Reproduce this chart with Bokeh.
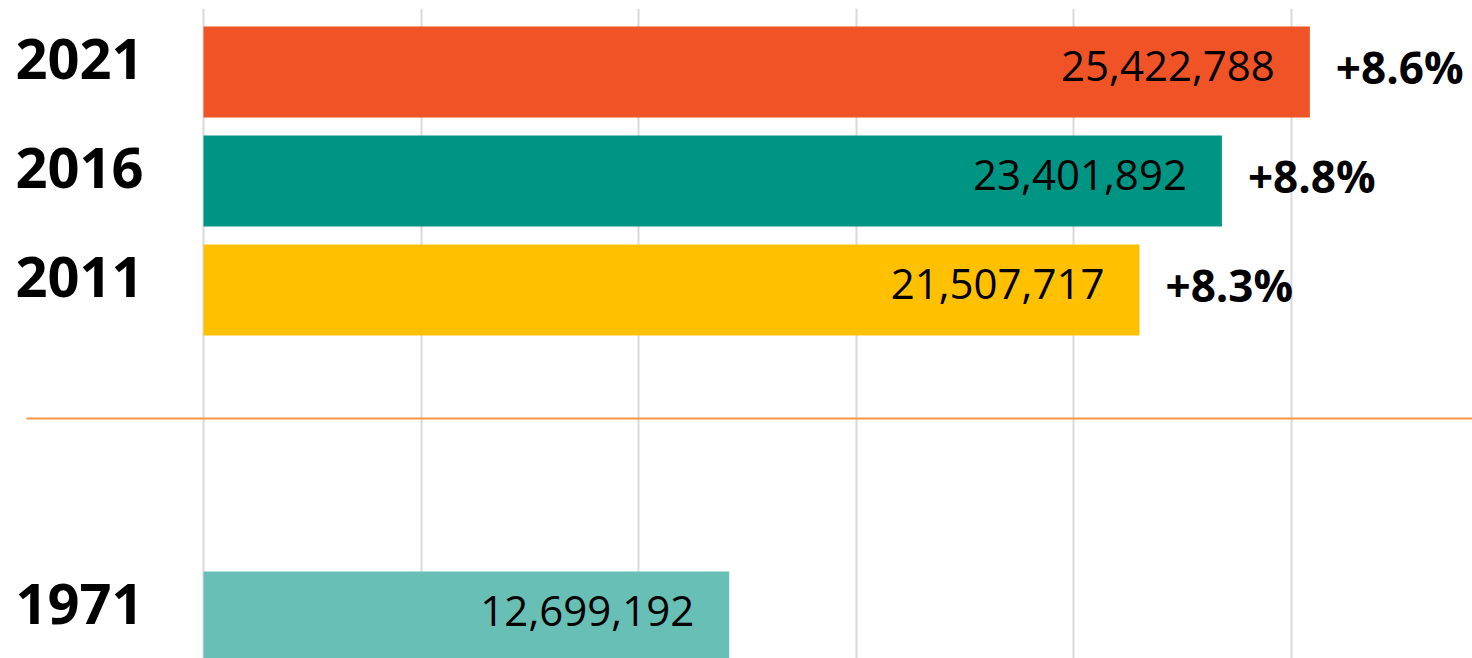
from bokeh.plotting import figure
from bokeh.models import ColumnDataSource, Range1d, FixedTicker
from bokeh.core.properties import value
from bokeh.embed import file_html
from bokeh.resources import INLINE

# ---- data ----
years = ["2021", "2016", "2011", "1971"]
populations = [25422788, 23401892, 21507717, 12699192]
value_labels = ["25,422,788", "23,401,892", "21,507,717", "12,699,192"]
# bar lengths as drawn in the picture (the 1971 bar is drawn shorter than its label)
bar_lengths = [25422788, 23401892, 21507717, 12080000]
growth_labels = ["+8.6%", "+8.8%", "+8.3%", ""]
bar_colors = ["#EF5326", "#009483", "#FFC000", "#67BFB5"]
grid_ticks = [0, 5000000, 10000000, 15000000, 20000000, 25000000]

# ---- layout (slot positions; 1971 sits below a gap) ----
slots = [0, 1, 2, 5]
ypos = [-s for s in slots]

src = ColumnDataSource(dict(
    year=years, pop=populations, length=bar_lengths, vlabel=value_labels,
    glabel=growth_labels, color=bar_colors, y=ypos,
    zero=[0] * len(years),
))

p = figure(width=1472, height=658, output_backend="svg", toolbar_location=None,
           x_range=Range1d(-4.481e6, 29.16e6), y_range=Range1d(-5.381, 0.583),
           min_border_left=8, min_border_top=8, min_border_right=0, min_border_bottom=0,
           outline_line_color=None,
           background_fill_color="white", border_fill_color="white")
p.xaxis.visible = False
p.yaxis.visible = False
p.ygrid.visible = False
p.xgrid.ticker = FixedTicker(ticks=grid_ticks)
p.xgrid.grid_line_color = "#D9D9D9"
p.xgrid.grid_line_width = 2

# separator line between recent years and 1971
p.segment(x0=-4.07e6, y0=-3.18, x1=29.16e6, y1=-3.18, line_color="#F79646", line_width=2)

p.hbar(y="y", left=0, right="length", height=0.835, fill_color="color",
       line_color=None, source=src)

# value labels inside bars
p.text(x="length", y="y", text="vlabel", source=src, text_align="right",
       text_baseline="middle", x_offset=-35, y_offset=-6,
       text_font=value("Open Sans"), text_font_size="42px", text_color="#000000")

# growth labels right of bars
p.text(x="length", y="y", text="glabel", source=src, text_align="left",
       text_baseline="middle", x_offset=26, y_offset=-5,
       text_font=value("Open Sans"), text_font_size="44px", text_font_style="bold",
       text_color="#000000")

# year labels on the left
p.text(x="zero", y="y", text="year", source=src, text_align="left",
       text_baseline="middle", x_offset=-188, y_offset=-13,
       text_font=value("Open Sans"), text_font_size="56px", text_font_style="bold",
       text_color="#000000")

open("out.html", "w").write(file_html(p, INLINE))
